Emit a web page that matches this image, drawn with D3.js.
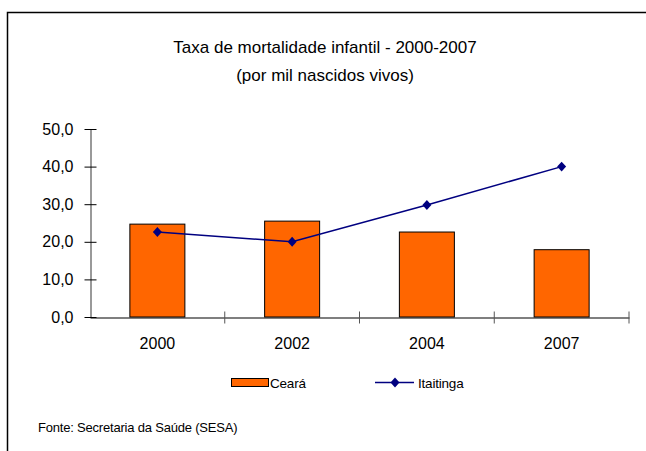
<!DOCTYPE html>
<html>
<head>
<meta charset="utf-8">
<script src="https://cdn.jsdelivr.net/npm/d3@7"></script>
<style>
  body { margin: 0; background: #fff; }
  text { font-family: "Liberation Sans", Arial, sans-serif; fill: #000; }
</style>
</head>
<body>
<svg id="chart" width="646" height="451"></svg>
<script>
// data
var years = ["2000", "2002", "2004", "2007"];
var ceara = [24.7, 25.5, 22.6, 17.9];
var itaitinga = [22.6, 20.0, 29.8, 40.0];
var yTicks = [0, 10, 20, 30, 40, 50];

var svg = d3.select("#chart");

// frame: only top and left edges are visible
svg.append("path")
	.attr("d", "M7.5,451 V12.5 H646")
	.attr("fill", "none")
	.attr("stroke", "#000")
	.attr("stroke-width", 1.5);

svg.append("text")
	.attr("x", 325).attr("y", 53)
	.attr("text-anchor", "middle")
	.style("font-size", "17px")
	.text("Taxa de mortalidade infantil - 2000-2007");
svg.append("text")
	.attr("x", 325).attr("y", 81)
	.attr("text-anchor", "middle")
	.style("font-size", "17px")
	.text("(por mil nascidos vivos)");

var x = d3.scaleBand().domain(years).range([90, 629]).paddingInner(0).paddingOuter(0);
var y = d3.scaleLinear().domain([0, 50]).range([317, 129]);

// y axis
var yAxis = d3.axisLeft(y)
	.tickValues(yTicks)
	.tickSize(0)
	.tickPadding(17)
	.tickFormat(function(d) { return d3.format(".1f")(d).replace(".", ","); });
var gy = svg.append("g").attr("transform", "translate(90.5,0)").call(yAxis);
gy.select(".domain").attr("stroke", "#555").attr("stroke-width", 1.2);
gy.selectAll(".tick text").style("font-size", "16px").style("font-family", "Liberation Sans, Arial, sans-serif");
gy.selectAll(".tick").append("line")
	.attr("x1", -6).attr("x2", 6)
	.attr("stroke", "#000");

// bars
var barW = 55;
svg.append("g")
	.selectAll("rect")
	.data(years)
	.enter()
	.append("rect")
	.attr("x", function(d) { return x(d) + x.bandwidth() / 2 - barW / 2; })
	.attr("y", function(d, i) { return y(ceara[i]); })
	.attr("width", barW)
	.attr("height", function(d, i) { return y(0) - y(ceara[i]); })
	.attr("fill", "#FF6600")
	.attr("stroke", "#000")
	.attr("stroke-width", 1);

// x axis
var xAxis = d3.axisBottom(x).tickSize(0).tickPadding(20);
var gx = svg.append("g").attr("transform", "translate(0,317.5)").call(xAxis);
gx.select(".domain").attr("stroke", "#000").attr("stroke-width", 1.2);
gx.selectAll(".tick text").style("font-size", "16px").style("font-family", "Liberation Sans, Arial, sans-serif");
var bounds = years.map(function(d) { return x(d); }).concat([x.range()[1]]);
gx.selectAll(".sep")
	.data(bounds.slice(1))
	.enter()
	.append("line")
	.attr("x1", function(d) { return d; })
	.attr("x2", function(d) { return d; })
	.attr("y1", -6).attr("y2", 6)
	.attr("stroke", "#555");

// Itaitinga line
var line = d3.line()
	.x(function(d, i) { return x(years[i]) + x.bandwidth() / 2; })
	.y(function(d) { return y(d); });
svg.append("path")
	.datum(itaitinga)
	.attr("d", line)
	.attr("fill", "none")
	.attr("stroke", "#000080")
	.attr("stroke-width", 1.5);

// diamond marker, about 9 wide and 10 tall like the original
var rhomb = {
	draw: function(ctx, size) {
		var h = Math.sqrt(size) / 2;
		ctx.moveTo(0, -h * 1.1);
		ctx.lineTo(h, 0);
		ctx.lineTo(0, h * 1.1);
		ctx.lineTo(-h, 0);
		ctx.closePath();
	}
};
var diamond = d3.symbol().type(rhomb).size(81);
svg.append("g")
	.selectAll("path")
	.data(itaitinga)
	.enter()
	.append("path")
	.attr("d", diamond)
	.attr("transform", function(d, i) {
		return "translate(" + (x(years[i]) + x.bandwidth() / 2) + "," + y(d) + ")";
	})
	.attr("fill", "#000080");

// legend
var lg = svg.append("g");
lg.append("rect")
	.attr("x", 231.5).attr("y", 378.5)
	.attr("width", 37).attr("height", 8)
	.attr("fill", "#FF6600").attr("stroke", "#000");
lg.append("text")
	.attr("x", 270).attr("y", 388)
	.style("font-size", "13.5px").style("letter-spacing", "-0.2px")
	.text("Ceará");
lg.append("line")
	.attr("x1", 375).attr("x2", 414)
	.attr("y1", 382.5).attr("y2", 382.5)
	.attr("stroke", "#000080").attr("stroke-width", 1.5);
lg.append("path")
	.attr("d", diamond)
	.attr("transform", "translate(395,382.5)")
	.attr("fill", "#000080");
lg.append("text")
	.attr("x", 418).attr("y", 388)
	.style("font-size", "13.5px").style("letter-spacing", "-0.2px")
	.text("Itaitinga");

svg.append("text")
	.attr("x", 38).attr("y", 432)
	.style("font-size", "13px").style("letter-spacing", "-0.2px")
	.text("Fonte: Secretaria da Saúde (SESA)");
</script>
</body>
</html>
